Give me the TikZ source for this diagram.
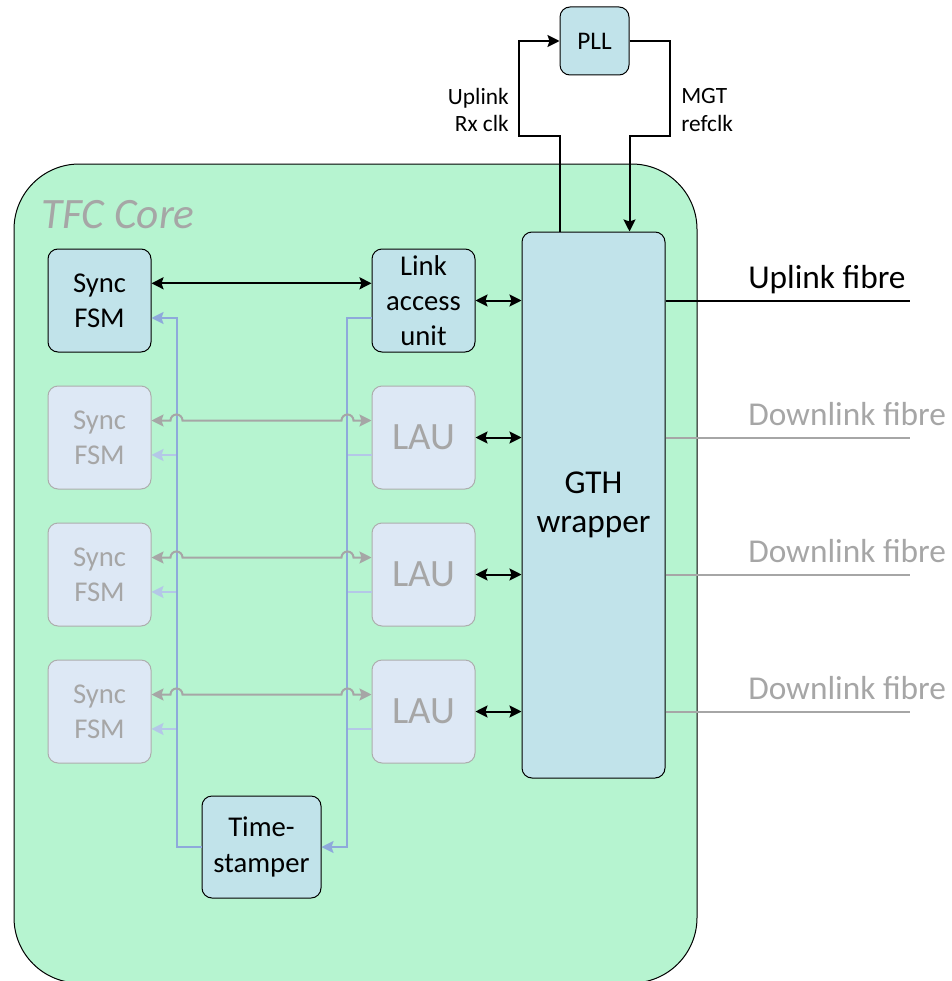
\documentclass[tikz,border=0pt]{standalone}
\usepackage{fontspec}
\setsansfont{Carlito}
\usepackage{xcolor}
\usepackage{tikz}
\usetikzlibrary{arrows.meta}
\definecolor{tfCore}{HTML}{B6F4D0}
\definecolor{tfBox}{HTML}{C1E3EA}
\definecolor{tfFaded}{HTML}{DDE8F5}
\definecolor{tfGrey}{HTML}{A6A6A6}
\definecolor{tfEdge}{HTML}{ADADAD}
\definecolor{tfStamp}{HTML}{8EA9DB}
\definecolor{tfStampLight}{HTML}{B4C7E7}
\tikzset{
  tf diagram/.style={font=\sffamily, line join=miter,
    >={Stealth[length=9pt,width=9pt,inset=1.5pt]}},
  tf box/.style={draw=black, fill=tfBox, line width=0.75pt,
    rounded corners=7.5pt, align=center, inner sep=0pt,
    minimum width=77.25pt, minimum height=77.25pt,
    font=\sffamily\fontsize{21.5}{26.5}\selectfont},
  tf faded box/.style={tf box, draw=tfEdge, fill=tfFaded, text=tfGrey},
  tf link/.style={<->, draw=black, line width=1.5pt},
  tf clock/.style={->, draw=black, line width=1.5pt},
  tf grey link/.style={<->, draw=tfGrey, line width=1.5pt},
  tf stamp/.style={draw=tfStamp, line width=1.5pt},
  tf stamp faint/.style={draw=tfStampLight, line width=1.5pt},
  tf fibre/.style={draw=black, line width=1.5pt},
  tf label/.style={inner sep=0pt, font=\sffamily\fontsize{17.5}{20.7}\selectfont},
  tf fibre label/.style={inner sep=0pt, font=\sffamily\fontsize{25}{30}\selectfont,
    anchor=base west}
}
\begin{document}
\begin{tikzpicture}[tf diagram,x=0.75pt,y=-0.75pt]
\useasboundingbox (0,0) rectangle (951,981);
\draw[fill=tfCore,draw=black,line width=0.75pt,rounded corners=49pt]
  (14,164) rectangle (697,983);
\node[anchor=base west,inner sep=0pt,text=tfGrey,
  font=\sffamily\itshape\fontsize{32.5}{38}\selectfont] (title) at (41,228) {TFC Core};
% blocks
\node[tf box] (sync) at (99.5,300.5) {Sync\\FSM};
\node[tf box] (link) at (423.5,300.5) {Link\\access\\unit};
\foreach \i/\y in {1/437.5,2/574.5,3/711.5} {
  \node[tf faded box] (fsm\i) at (99.5,\y) {Sync\\FSM};
  \node[tf faded box,font=\sffamily\fontsize{29}{35}\selectfont] (lau\i) at (423.5,\y) {LAU};
}
\node[tf box,minimum width=107.25pt,minimum height=409.5pt,
  font=\sffamily\fontsize{25}{29.5}\selectfont] (gth) at (593.5,505) {GTH\\wrapper};
\node[tf box,minimum width=51.75pt,minimum height=51pt,
  font=\sffamily\fontsize{19}{22}\selectfont] (pll) at (594.5,41) {PLL};
\node[tf box,minimum width=89.25pt,minimum height=76.5pt] (stamp) at (261.5,847) {Time-\\stamper};
% clocks
\coordinate (rxbend) at (519,136);
\coordinate (refbend) at (670,136);
\draw[tf clock] (gth.north -| pll.west) |- (rxbend) |- (pll.west);
\draw[tf clock] (pll.east) -| (refbend) -| (gth.north -| pll.east);
\node[tf label,anchor=east,align=right] (rxlabel) at (509,110) {Uplink\\Rx clk};
\node[tf label,anchor=west,align=left] (reflabel) at (681,110) {MGT\\refclk};
% timestamp bus
\coordinate (busl) at (176.5,318);
\coordinate (busr) at (347,318);
\foreach \i in {1,2,3} {
  \coordinate (fin\i) at ([yshift=-13.1pt]fsm\i.east);
  \draw[tf stamp faint,->] (fin\i -| busl) -- (fin\i);
  \draw[tf stamp faint] ([yshift=-13.1pt]lau\i.west) -- (fin\i -| busr);
}
\draw[tf stamp,->] (stamp.west) -| (busl) -- (busl -| sync.east);
\draw[tf stamp,->] (busr -| link.west) -- (busr) |- (stamp.east);
% data links
\draw[tf link] ([yshift=12.9pt]sync.east) -- ([yshift=12.9pt]link.west);
\draw[tf link] (link.east) -- (link.east -| gth.west);
\foreach \i in {1,2,3} {
  \draw[tf grey link] ([yshift=12.75pt]fsm\i.east) -- ++(19,0)
    arc[start angle=180,end angle=0,radius=4.5pt] -- ++(159,0)
    arc[start angle=180,end angle=0,radius=4.5pt] -- ([yshift=12.75pt]lau\i.west);
  \draw[tf link] (lau\i.east) -- (lau\i.east -| gth.west);
}
% fibres
\coordinate (fend) at (910,0);
\draw[tf fibre] (link.east -| gth.east) -- (link.east -| fend);
\node[tf fibre label] (upfibre) at (748,288) {Uplink fibre};
\foreach \i/\y in {1/437.5,2/574.5,3/711.5} {
  \draw[tf fibre,draw=tfGrey] (lau\i.east -| gth.east) -- (lau\i.east -| fend);
  \node[tf fibre label,text=tfGrey] (downfibre\i) at (748,\y-12.5) {Downlink fibre};
}
\end{tikzpicture}
\end{document}
